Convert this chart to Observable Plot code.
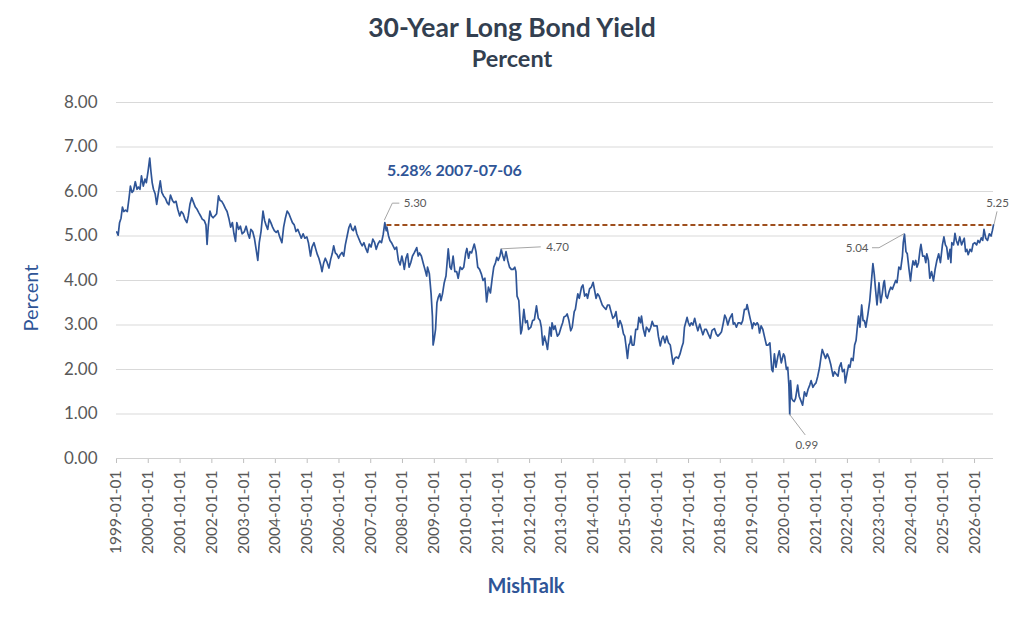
<!DOCTYPE html>
<html><head><meta charset="utf-8">
<script src="https://cdn.jsdelivr.net/npm/d3@7"></script>
<script src="https://cdn.jsdelivr.net/npm/@observablehq/plot@0.6"></script>
<style>
html,body{margin:0;padding:0;background:#fff;}
#wrap{position:relative;width:1024px;height:628px;font-family:Lato,"Open Sans",sans-serif;overflow:hidden;}
#wrap svg{position:absolute;left:0;top:0;}
.t{position:absolute;left:0;width:1024px;text-align:center;font-weight:bold;color:#333F50;line-height:1;}
#ylab{position:absolute;left:30px;top:298px;transform:translate(-50%,-50%) rotate(-90deg);font-size:20px;color:#2F5597;white-space:nowrap;line-height:1;}
#xlab{position:absolute;left:526px;top:585px;transform:translate(-50%,-50%);font-size:20px;font-weight:bold;color:#2F5597;white-space:nowrap;line-height:1;}
</style></head><body>
<div id="wrap">
  <div class="t" style="top:14px;font-size:26.5px;">30-Year Long Bond Yield</div>
  <div class="t" style="top:47px;font-size:23.5px;">Percent</div>
  <div id="ylab">Percent</div>
  <div id="xlab">MishTalk</div>
</div>
<script>
// ---- data ----
const dates = [
"1999-01-04","1999-01-20","1999-02-05","1999-02-22","1999-03-10","1999-03-26","1999-04-15","1999-05-05","1999-05-25","1999-06-10","1999-06-28","1999-07-15","1999-08-05","1999-08-25","1999-09-10","1999-09-28","1999-10-15","1999-11-05","1999-11-25","1999-12-10","1999-12-30",
"2000-01-18","2000-02-01","2000-02-15","2000-03-01","2000-03-20","2000-04-07","2000-04-25","2000-05-18","2000-06-05","2000-06-25","2000-07-15","2000-08-05","2000-08-25","2000-09-12","2000-10-05","2000-10-25","2000-11-15","2000-12-05","2000-12-28",
"2001-01-15","2001-02-05","2001-02-25","2001-03-20","2001-04-05","2001-04-25","2001-05-15","2001-06-05","2001-06-25","2001-07-15","2001-08-05","2001-08-25","2001-09-12","2001-10-05","2001-10-25","2001-11-07","2001-11-20","2001-12-10","2001-12-28",
"2002-01-15","2002-02-05","2002-02-25","2002-03-18","2002-04-05","2002-04-25","2002-05-15","2002-06-05","2002-06-25","2002-07-15","2002-08-05","2002-08-25","2002-09-12","2002-09-30","2002-10-15","2002-11-05","2002-11-25","2002-12-15",
"2003-01-10","2003-01-30","2003-02-20","2003-03-10","2003-03-25","2003-04-15","2003-05-05","2003-05-25","2003-06-13","2003-06-30","2003-07-20","2003-08-12","2003-08-30","2003-09-15","2003-10-05","2003-10-22","2003-11-10","2003-11-30","2003-12-20",
"2004-01-10","2004-01-30","2004-02-20","2004-03-16","2004-04-05","2004-04-25","2004-05-15","2004-06-05","2004-06-25","2004-07-15","2004-08-05","2004-08-25","2004-09-15","2004-10-05","2004-10-25","2004-11-15","2004-12-05","2004-12-28",
"2005-01-15","2005-02-08","2005-02-25","2005-03-20","2005-04-10","2005-04-28","2005-05-15","2005-06-05","2005-06-20","2005-07-10","2005-07-28","2005-08-15","2005-09-08","2005-09-28","2005-10-15","2005-11-01","2005-11-20","2005-12-10","2005-12-28",
"2006-01-15","2006-02-05","2006-02-25","2006-03-15","2006-04-05","2006-04-25","2006-05-12","2006-05-30","2006-06-15","2006-07-05","2006-07-25","2006-08-15","2006-09-05","2006-09-25","2006-10-15","2006-11-05","2006-11-25","2006-12-15",
"2007-01-05","2007-01-25","2007-02-15","2007-03-05","2007-03-25","2007-04-15","2007-05-05","2007-05-25","2007-06-12","2007-06-28","2007-07-06","2007-07-25","2007-08-10","2007-08-28","2007-09-15","2007-10-05","2007-10-25","2007-11-15","2007-12-05","2007-12-25",
"2008-01-10","2008-01-22","2008-02-10","2008-02-28","2008-03-17","2008-04-05","2008-04-25","2008-05-15","2008-06-13","2008-06-30","2008-07-15","2008-08-05","2008-08-25","2008-09-15","2008-10-05","2008-10-15","2008-11-05","2008-11-25","2008-12-10","2008-12-18","2008-12-31",
"2009-01-15","2009-01-31","2009-02-15","2009-03-05","2009-03-18","2009-04-05","2009-04-25","2009-05-15","2009-06-10","2009-06-30","2009-07-15","2009-08-05","2009-08-25","2009-09-15","2009-10-02","2009-10-25","2009-11-15","2009-12-05","2009-12-28",
"2010-01-10","2010-01-30","2010-02-15","2010-03-05","2010-03-25","2010-04-05","2010-04-25","2010-05-15","2010-06-05","2010-06-25","2010-07-15","2010-08-05","2010-08-25","2010-09-15","2010-10-08","2010-10-28","2010-11-15","2010-12-05","2010-12-20",
"2011-01-05","2011-01-25","2011-02-09","2011-02-28","2011-03-15","2011-04-05","2011-04-25","2011-05-15","2011-06-05","2011-06-25","2011-07-15","2011-07-28","2011-08-10","2011-08-30","2011-09-22","2011-10-05","2011-10-27","2011-11-15","2011-12-05","2011-12-20",
"2012-01-15","2012-02-05","2012-02-25","2012-03-20","2012-04-10","2012-04-30","2012-05-15","2012-06-01","2012-06-20","2012-07-10","2012-07-25","2012-08-20","2012-09-05","2012-09-15","2012-10-05","2012-10-20","2012-11-15","2012-12-05","2012-12-28",
"2013-01-15","2013-01-30","2013-02-20","2013-03-08","2013-03-28","2013-04-18","2013-05-05","2013-05-28","2013-06-10","2013-06-25","2013-07-08","2013-07-25","2013-08-20","2013-09-05","2013-09-25","2013-10-15","2013-10-28","2013-11-20","2013-12-10","2013-12-31",
"2014-01-20","2014-02-03","2014-02-20","2014-03-10","2014-03-28","2014-04-15","2014-05-05","2014-05-28","2014-06-15","2014-07-05","2014-07-25","2014-08-15","2014-09-05","2014-09-20","2014-10-15","2014-11-05","2014-11-25","2014-12-15","2014-12-30",
"2015-01-15","2015-01-30","2015-02-15","2015-02-28","2015-03-10","2015-03-25","2015-04-15","2015-05-05","2015-05-25","2015-06-10","2015-06-28","2015-07-10","2015-07-30","2015-08-20","2015-09-05","2015-09-25","2015-10-05","2015-10-25","2015-11-10","2015-11-30","2015-12-20",
"2016-01-05","2016-01-20","2016-02-11","2016-03-01","2016-03-15","2016-04-05","2016-04-25","2016-05-15","2016-06-05","2016-06-28","2016-07-08","2016-07-25","2016-08-15","2016-09-05","2016-09-25","2016-10-15","2016-11-01","2016-11-15","2016-12-15","2016-12-30",
"2017-01-15","2017-02-01","2017-02-20","2017-03-13","2017-03-30","2017-04-18","2017-05-10","2017-05-30","2017-06-15","2017-07-05","2017-07-25","2017-08-15","2017-09-08","2017-09-28","2017-10-25","2017-11-15","2017-12-05","2017-12-28",
"2018-01-15","2018-02-05","2018-02-21","2018-03-10","2018-03-28","2018-04-20","2018-05-17","2018-05-30","2018-06-15","2018-07-05","2018-07-25","2018-08-15","2018-08-29","2018-09-15","2018-10-05","2018-10-25","2018-11-05","2018-11-25","2018-12-10","2018-12-28",
"2019-01-03","2019-01-20","2019-02-10","2019-02-28","2019-03-15","2019-03-28","2019-04-15","2019-05-05","2019-05-28","2019-06-15","2019-07-05","2019-07-25","2019-08-15","2019-08-28","2019-09-15","2019-10-02","2019-10-25","2019-11-10","2019-12-03","2019-12-28",
"2020-01-10","2020-01-31","2020-02-15","2020-02-28","2020-03-09","2020-03-18","2020-03-31","2020-04-15","2020-04-30","2020-05-15","2020-06-08","2020-06-25","2020-07-15","2020-08-04","2020-08-25","2020-09-15","2020-10-05","2020-10-25","2020-11-10","2020-11-30","2020-12-15",
"2021-01-05","2021-01-25","2021-02-15","2021-03-05","2021-03-18","2021-04-05","2021-04-25","2021-05-15","2021-06-05","2021-06-25","2021-07-20","2021-08-05","2021-08-25","2021-09-15","2021-09-30","2021-10-20","2021-11-05","2021-11-25","2021-12-08","2021-12-28",
"2022-01-15","2022-01-30","2022-02-15","2022-03-07","2022-03-25","2022-04-10","2022-04-25","2022-05-09","2022-05-25","2022-06-14","2022-06-30","2022-07-15","2022-08-01","2022-08-25","2022-09-15","2022-09-28","2022-10-21","2022-11-05","2022-11-20","2022-12-07","2022-12-30",
"2023-01-18","2023-02-05","2023-02-22","2023-03-02","2023-03-20","2023-04-05","2023-04-25","2023-05-15","2023-06-01","2023-06-20","2023-07-10","2023-07-25","2023-08-15","2023-09-05","2023-09-25","2023-10-05","2023-10-19","2023-11-05","2023-11-20","2023-12-10","2023-12-27",
"2024-01-10","2024-01-25","2024-02-10","2024-02-25","2024-03-10","2024-03-28","2024-04-15","2024-04-25","2024-05-15","2024-06-05","2024-06-20","2024-07-01","2024-07-20","2024-08-05","2024-08-25","2024-09-16","2024-10-05","2024-10-25","2024-11-15","2024-12-05","2024-12-28",
"2025-01-14","2025-01-31","2025-02-15","2025-03-04","2025-03-25","2025-04-04","2025-04-15","2025-05-05","2025-05-21","2025-06-05","2025-06-25","2025-07-15","2025-08-05","2025-08-25","2025-09-05","2025-09-20","2025-10-05","2025-10-20","2025-11-10","2025-11-28","2025-12-15",
"2026-01-05","2026-01-25","2026-02-10","2026-02-28","2026-03-20","2026-04-05","2026-04-20","2026-05-10","2026-05-30","2026-06-20","2026-07-10","2026-07-25","2026-08-07"
];
const yields = [
5.09,5.02,5.30,5.40,5.65,5.55,5.58,5.55,5.85,6.12,5.98,6.02,6.22,6.05,6.10,6.05,6.35,6.12,6.28,6.20,6.46,
6.75,6.45,6.20,6.05,5.95,5.71,5.95,6.24,5.98,5.90,5.85,5.75,5.70,5.92,5.80,5.75,5.78,5.60,5.45,
5.55,5.50,5.38,5.30,5.45,5.72,5.86,5.75,5.65,5.60,5.52,5.45,5.38,5.35,5.25,4.81,5.20,5.56,5.45,
5.41,5.45,5.50,5.90,5.80,5.78,5.71,5.62,5.55,5.40,5.20,5.30,5.05,4.88,5.30,5.15,5.22,5.05,
5.10,5.22,5.05,4.95,5.15,5.10,4.95,4.70,4.45,4.85,5.10,5.56,5.35,5.25,5.15,5.38,5.30,5.20,5.12,
5.08,5.12,4.98,4.85,5.20,5.40,5.56,5.50,5.40,5.30,5.25,5.10,5.15,5.05,4.95,5.05,4.95,4.98,
4.85,4.55,4.75,4.85,4.70,4.58,4.50,4.35,4.20,4.40,4.50,4.42,4.28,4.48,4.60,4.78,4.62,4.58,4.50,
4.58,4.63,4.55,4.80,5.00,5.19,5.27,5.15,5.12,5.22,5.05,4.95,4.85,4.78,4.85,4.72,4.63,4.82,
4.75,4.93,4.85,4.70,4.82,4.89,4.85,5.04,5.30,5.12,5.20,5.00,4.90,4.85,4.78,4.70,4.75,4.45,4.35,4.55,
4.40,4.25,4.50,4.60,4.30,4.40,4.55,4.62,4.74,4.55,4.62,4.55,4.40,4.25,4.10,4.30,4.15,3.70,3.20,2.55,2.69,
2.90,3.50,3.62,3.70,3.55,3.70,3.95,4.10,4.71,4.30,4.25,4.55,4.20,4.20,4.05,4.30,4.25,4.30,4.62,
4.72,4.50,4.65,4.62,4.75,4.82,4.65,4.30,4.25,4.15,4.00,4.05,3.52,3.85,3.72,4.05,4.30,4.40,4.52,
4.45,4.55,4.70,4.55,4.45,4.65,4.45,4.30,4.25,4.25,4.30,4.20,3.65,3.55,2.80,2.90,3.35,3.05,3.10,2.90,
2.95,3.10,3.12,3.43,3.15,3.10,2.95,2.55,2.75,2.60,2.45,2.95,2.75,3.05,2.90,2.98,2.75,2.80,2.95,
3.05,3.18,3.20,3.25,3.10,2.87,2.95,3.30,3.35,3.55,3.70,3.60,3.85,3.90,3.65,3.70,3.60,3.81,3.85,3.96,
3.75,3.60,3.70,3.65,3.55,3.45,3.40,3.35,3.45,3.45,3.30,3.15,3.20,3.30,2.95,3.10,3.00,2.80,2.75,
2.50,2.25,2.55,2.60,2.75,2.55,2.55,2.90,2.90,3.17,3.05,3.20,2.92,2.75,2.95,2.90,2.85,2.95,3.08,2.98,2.98,
2.98,2.75,2.53,2.70,2.75,2.60,2.75,2.60,2.55,2.25,2.12,2.25,2.28,2.25,2.35,2.50,2.60,2.95,3.17,3.05,
2.98,3.05,3.00,3.15,3.00,2.87,3.02,2.88,2.78,2.90,2.90,2.80,2.70,2.88,2.92,2.80,2.75,2.80,
2.85,3.05,3.22,3.15,3.00,3.15,3.25,3.02,3.05,2.95,3.05,3.05,3.02,3.10,3.35,3.35,3.46,3.28,3.15,3.00,
2.92,3.05,3.00,3.05,3.00,2.82,2.98,2.90,2.70,2.55,2.55,2.60,2.00,1.95,2.35,2.05,2.30,2.42,2.15,2.35,
2.30,2.00,2.05,1.65,0.99,1.75,1.35,1.30,1.28,1.35,1.65,1.40,1.30,1.20,1.50,1.40,1.55,1.65,1.75,1.60,1.65,
1.70,1.85,2.05,2.30,2.45,2.35,2.25,2.35,2.25,2.10,1.85,1.95,1.90,1.85,2.05,2.15,1.95,2.00,1.70,1.92,
2.10,2.05,2.25,2.20,2.55,2.65,2.95,3.20,2.95,3.45,3.10,3.10,2.95,3.25,3.55,3.85,4.38,4.15,3.80,3.45,3.95,
3.50,3.70,3.95,4.00,3.65,3.60,3.75,3.85,3.80,3.90,4.00,3.95,4.30,4.25,4.55,4.85,5.04,4.65,4.60,4.25,3.99,
4.25,4.44,4.35,4.45,4.30,4.40,4.70,4.81,4.55,4.55,4.40,4.60,4.45,4.05,4.20,3.99,4.25,4.45,4.60,4.40,4.80,
4.98,4.80,4.75,4.48,4.70,4.40,4.85,4.80,5.06,4.90,4.80,4.98,4.80,4.90,4.95,4.65,4.70,4.58,4.70,4.65,4.82,
4.85,4.80,4.90,4.85,4.96,4.90,5.15,4.95,4.90,5.05,5.00,5.12,5.25
];
const xStart = "1999-01-01", xEnd = "2026-08-07";
const yTicks = [0,1,2,3,4,5,6,7,8];
const xTicks = d3.range(1999, 2027).map(y => `${y}-01-01`);
const refDate = "2007-07-06", refLevel = 5.25, refLabel = "5.28% 2007-07-06";
const annDates  = ["2007-06-12","2011-02-09","2020-03-09","2023-10-19","2026-08-07"];
const annValues = [5.30, 4.70, 0.99, 5.04, 5.25];

// ---- build ----
const data = dates.map((d, i) => ({date: new Date(d), value: yields[i]}));
// leader geometry (pixel offsets from the labelled point) and label placement
const leaderStyle = [
  {path: [[0,-2],[8,-19],[15,-19]], dx: 19, dy: -19, anchor: "start"},
  {path: [[0,0],[40,-2]],           dx: 45, dy: -2,  anchor: "start"},
  {path: [[0,0],[16,21]],           dx: 17, dy: 31,  anchor: "middle"},
  {path: [[0,0],[-25,14],[-32,14]], dx: -36, dy: 14, anchor: "end"},
  {path: [[1,0],[4,-13]],           dx: 4,  dy: -22, anchor: "middle"}
];
const ann = annDates.map((d, i) => ({date: new Date(d), value: annValues[i], label: annValues[i].toFixed(2), ...leaderStyle[i]}));

const FONT = "Lato, 'Open Sans', sans-serif";
const chart = Plot.plot({
  width: 1024, height: 628,
  marginTop: 102, marginBottom: 170, marginLeft: 116, marginRight: 31,
  style: {fontFamily: FONT, background: "transparent", overflow: "visible"},
  x: {type: "utc", domain: [new Date(xStart), new Date(xEnd)]},
  y: {domain: [0, 8]},
  marks: [
    Plot.ruleY(yTicks, {stroke: "#d9d9d9", strokeWidth: 1}),
    Plot.axisY({ticks: yTicks, tickSize: 0, tickPadding: 19, tickFormat: d => d.toFixed(2), fontSize: 17, fill: "#595959", label: null}),
    Plot.axisX({ticks: xTicks.map(d => new Date(d)), tickSize: 5, tickPadding: 7, tickRotate: -90,
      tickFormat: d3.utcFormat("%Y-%m-%d"), fontSize: 15.5, fill: "#595959", stroke: "#bfbfbf", label: null}),
    Plot.ruleY([0], {stroke: "#d0d0d0", strokeWidth: 1}),
    Plot.ruleY([refLevel], {x1: new Date(refDate), x2: new Date(xEnd), stroke: "#9E4F1E", strokeWidth: 2, strokeDasharray: "5,3"}),
    Plot.line(data, {x: "date", y: "value", stroke: "#2F5597", strokeWidth: 1.7}),
    (index, scales) => {
      const g = d3.create("svg:g").attr("fill", "none").attr("stroke", "#a6a6a6").attr("stroke-width", 1);
      for (const a of ann) {
        const px = scales.x(a.date), py = scales.y(a.value);
        g.append("polyline").attr("points", a.path.map(([dx, dy]) => `${px + dx},${py + dy}`).join(" "));
      }
      return g.node();
    },
    ...ann.map(a => Plot.text([a], {x: "date", y: "value", text: "label", dx: a.dx, dy: a.dy,
      textAnchor: a.anchor, fill: "#595959", fontSize: 11.5})),
    Plot.text([{date: new Date(refDate), value: refLevel}], {x: "date", y: "value", text: () => refLabel,
      dx: 0, dy: -54, textAnchor: "start", fill: "#2F5597", fontSize: 16, fontWeight: "bold"})
  ]
});
document.getElementById("wrap").prepend(chart);
</script>
</body></html>
